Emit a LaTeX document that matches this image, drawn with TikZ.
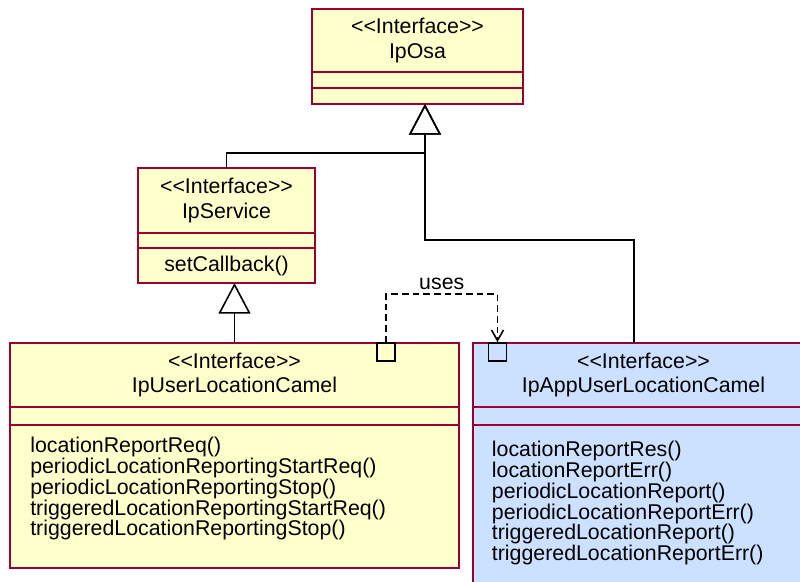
\documentclass[tikz,border=0pt]{standalone}
\usepackage{xcolor}
\usepackage{fontspec}
\setmainfont{Liberation Sans}[Ligatures=TeXOff]
\usepackage{tikz}
\usetikzlibrary{shapes,arrows.meta,positioning}

\definecolor{umlyellow}{RGB}{255,255,204}
\definecolor{umlblue}{RGB}{204,224,255}
\definecolor{umlborder}{RGB}{153,0,51}

\tikzset{
  compart/.style={rectangle, draw=umlborder, line width=1.2pt, inner sep=0pt, outer sep=0pt},
  yellowpart/.style={compart, fill=umlyellow},
  bluepart/.style={compart, fill=umlblue},
  headtext/.style={align=center, font=\fontsize{16}{18.5}\selectfont},
  optext/.style={align=left, inner sep=0pt, font=\fontsize{16}{15.6}\selectfont},
  port/.style={rectangle, draw=black, line width=1.2pt, minimum size=13.5pt, inner sep=0pt},
  genline/.style={line width=1.2pt, -{Triangle[open, length=23pt, width=24pt]}},
  useline/.style={line width=1.2pt, dash pattern=on 5pt off 3pt, -{Straight Barb[length=8pt, width=9pt]}}
}

\begin{document}
\begin{tikzpicture}[x=0.75pt, y=-0.75pt]
\useasboundingbox (0,0) rectangle (800,582);
\clip (0,0) rectangle (800,582);

% IpOsa
\node[yellowpart, headtext, anchor=north west, minimum width=158.25pt, minimum height=47.25pt] (osahead) at (312,9) {<<Interface>>\\IpOsa};
\node[yellowpart, minimum width=158.25pt, minimum height=12pt, below=0pt of osahead] (osaattr) {};
\node[yellowpart, minimum width=158.25pt, minimum height=12pt, below=0pt of osaattr] (osaops) {};

% IpService
\node[yellowpart, headtext, anchor=north west, minimum width=132.75pt, minimum height=48.75pt] (servhead) at (138,168) {<<Interface>>\\IpService};
\node[yellowpart, minimum width=132.75pt, minimum height=11.25pt, below=0pt of servhead] (servattr) {};
\node[yellowpart, headtext, minimum width=132.75pt, minimum height=26.25pt, below=0pt of servattr] (servops) {setCallback()};

% IpUserLocationCamel
\node[yellowpart, headtext, anchor=north west, minimum width=336.75pt, minimum height=48pt] (userhead) at (10,343) {<<Interface>>\\IpUserLocationCamel};
\node[yellowpart, minimum width=336.75pt, minimum height=13.5pt, below=0pt of userhead] (userattr) {};
\node[yellowpart, minimum width=336.75pt, minimum height=107.25pt, below=0pt of userattr] (userops) {};
\node[optext, anchor=north west] (usertext) at ([xshift=15pt, yshift=-9pt]userops.north west) {locationReportReq()\\periodicLocationReportingStartReq()\\periodicLocationReportingStop()\\triggeredLocationReportingStartReq()\\triggeredLocationReportingStop()};

% IpAppUserLocationCamel
\node[bluepart, headtext, anchor=north west, minimum width=255.75pt, minimum height=48pt] (apphead) at (473,343) {<<Interface>>\\IpAppUserLocationCamel};
\node[bluepart, minimum width=255.75pt, minimum height=13.5pt, below=0pt of apphead] (appattr) {};
\node[bluepart, minimum width=255.75pt, minimum height=131.25pt, below=0pt of appattr] (appops) {};
\node[optext, anchor=north west] (apptext) at ([xshift=14pt, yshift=-12pt]appops.north west) {locationReportRes()\\locationReportErr()\\periodicLocationReport()\\periodicLocationReportErr()\\triggeredLocationReport()\\triggeredLocationReportErr()};

% ports
\node[port] (userport) at (386,352) {};
\node[port] (appport) at (497.5,352) {};

% inheritance
\coordinate (osajoin) at ([xshift=5.6pt]osaops.south);
\coordinate (appjoin) at ([xshift=-7.1pt]apphead.north);
\draw[genline] (servhead.north) -- ++(0,-15) -| (osajoin);
\draw[genline] (appjoin) -- ++(0,-103) -| (osajoin);
\draw[genline] (userhead.north) -- (userhead.north |- servops.south);

% dependency
\draw[useline] (userport.north) -- ++(0,-48) -| node[pos=0.25, above=3pt, inner sep=0pt, font=\fontsize{16}{18}\selectfont] (useslabel) {uses} (appport.north);
\end{tikzpicture}
\end{document}
